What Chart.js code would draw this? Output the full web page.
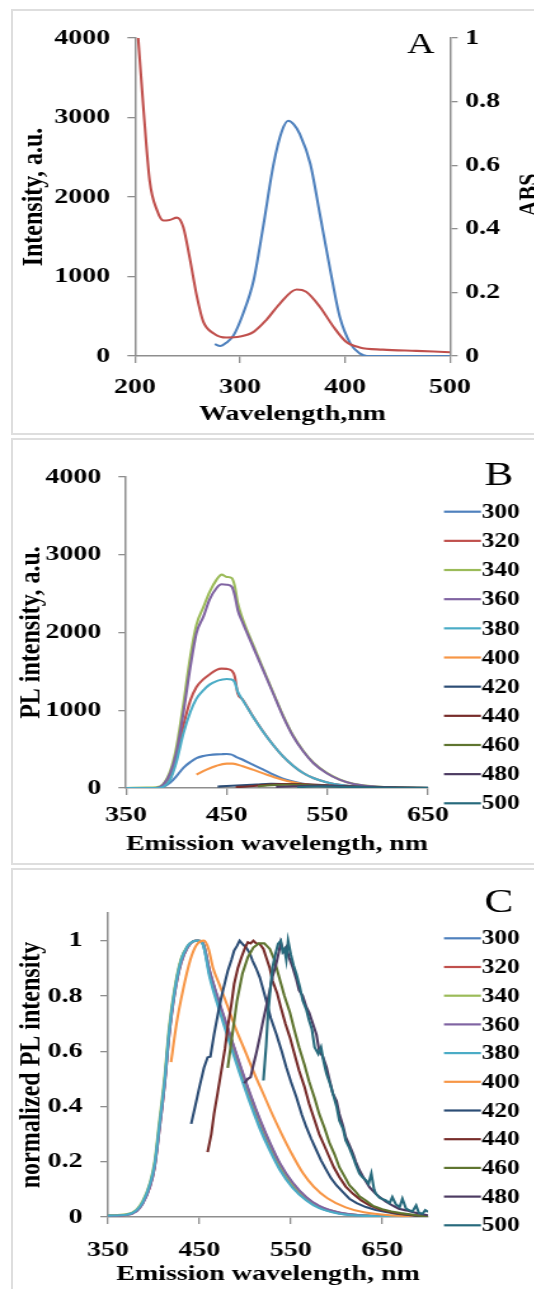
<!DOCTYPE html>
<html>
<head>
<meta charset="utf-8">
<script src="https://cdn.jsdelivr.net/npm/chart.js@4.4.1/dist/chart.umd.min.js"></script>
<style>
  html, body { margin: 0; padding: 0; background: #fff; }
  body { width: 534px; height: 1289px; overflow: hidden; position: relative; }
  .frame { position: absolute; left: 11px; width: 620px; border: 2px solid #dedede; box-sizing: border-box; }
  .wrap { position: absolute; left: 0; transform: scaleX(1.27); transform-origin: 0 0; }
  canvas { display: block; }
</style>
</head>
<body>
<div class="frame" style="top:9px;height:426px"></div>
<div class="frame" style="top:438px;height:427px"></div>
<div class="frame" style="top:868px;height:440px"></div>
<div class="wrap" style="top:10px"><canvas id="chartA" width="441" height="424"></canvas></div>
<div class="wrap" style="top:439px"><canvas id="chartB" width="441" height="425"></canvas></div>
<div class="wrap" style="top:869px"><canvas id="chartC" width="441" height="425"></canvas></div>
<script>
// ---- tick labels
const aTicksX = [200, 300, 400, 500];
const aTicksY = [0, 1000, 2000, 3000, 4000];
const aTicksY2 = [0, 0.2, 0.4, 0.6, 0.8, 1];
const bTicksX = [350, 450, 550, 650];
const bTicksY = [0, 1000, 2000, 3000, 4000];
const cTicksX = [350, 450, 550, 650];
const cTicksY = [0, 0.2, 0.4, 0.6, 0.8, 1];

// ---- panel A: excitation (left axis) + absorbance (right axis)
const absX = [203, 208, 214, 221, 227, 233, 240, 246, 252, 259, 265, 275, 287, 300, 313, 325, 338, 354, 363, 376, 389, 401, 414, 436, 468, 500];
const absY = [1.0, 0.78, 0.55, 0.458, 0.426, 0.428, 0.435, 0.405, 0.31, 0.186, 0.108, 0.071, 0.058, 0.061, 0.076, 0.113, 0.165, 0.209, 0.202, 0.155, 0.092, 0.045, 0.027, 0.02, 0.016, 0.012];
const excX = [276, 281, 287, 294, 303, 313, 322, 332, 340, 346, 351, 357, 367, 376, 386, 395, 405, 414, 421, 440, 470, 500];
const excY = [150, 125, 167, 263, 535, 953, 1622, 2416, 2834, 2960, 2918, 2792, 2416, 1789, 1078, 493, 159, 33, 0, 0, 0, 0];

// ---- panel B: PL spectra, a.u.
const exLabels = ["300", "320", "340", "360", "380", "400", "420", "440", "460", "480", "500"];
const colors = ["#4F81BD", "#C0504D", "#9BBB59", "#8064A2", "#4BACC6", "#F79646", "#2C4D75", "#772C2A", "#5F7530", "#4D3B62", "#276A7C"];

const bX = [350, 370, 380, 387, 394, 400, 407, 414, 420, 427, 433, 440, 445, 450, 455, 458, 461, 466, 476, 486, 496, 506, 516, 526, 536, 549, 562, 576, 595, 622, 650];
const b300 = [0, 0, 0, 15, 70, 150, 260, 335, 385, 412, 424, 432, 435, 437, 429, 410, 390, 363, 300, 240, 175, 120, 83, 55, 38, 22, 13, 6, 2, 0, 0];
const b320 = [0, 0, 0, 20, 130, 380, 800, 1130, 1300, 1400, 1460, 1520, 1535, 1532, 1509, 1436, 1215, 1136, 922, 729, 557, 407, 287, 193, 128, 75, 40, 21, 8, 2, 0];
const b340 = [0, 5, 8, 50, 220, 520, 1080, 1700, 2100, 2330, 2520, 2680, 2744, 2715, 2700, 2600, 2380, 2170, 1850, 1540, 1235, 935, 675, 480, 328, 197, 110, 53, 22, 5, 0];
const b360 = [0, 0, 0, 43, 193, 450, 965, 1565, 1993, 2208, 2422, 2572, 2620, 2615, 2590, 2480, 2290, 2122, 1822, 1522, 1222, 922, 665, 472, 322, 193, 107, 51, 21, 4, 0];
const b380 = [0, 0, 0, 15, 110, 330, 700, 980, 1150, 1260, 1330, 1375, 1392, 1402, 1395, 1360, 1240, 1130, 920, 728, 556, 406, 287, 193, 128, 75, 40, 21, 8, 2, 0];
const b400X = [420, 430, 440, 450, 456, 466, 476, 490, 503, 516, 533, 556, 589, 620, 650];
const b400 = [171, 236, 287, 313, 313, 279, 236, 171, 116, 73, 39, 17, 4, 1, 0];
const b420X = [441, 450, 460, 470, 480, 494, 505, 520, 535, 550, 565, 580, 600, 620, 650];
const b420 = [18, 25, 32, 38, 45, 53, 52, 45, 36, 27, 18, 12, 6, 3, 0];
const b440X = [459, 470, 480, 490, 500, 510, 520, 535, 550, 565, 580, 600, 620, 650];
const b440 = [12, 20, 30, 40, 48, 52, 50, 43, 34, 24, 16, 8, 4, 0];
const b460X = [481, 490, 500, 510, 520, 535, 550, 565, 580, 600, 620, 650];
const b460 = [22, 32, 38, 41, 41, 36, 28, 20, 14, 7, 3, 0];
const b480X = [499, 510, 520, 530, 541, 555, 570, 585, 600, 620, 650];
const b480 = [15, 19, 23, 27, 30, 27, 22, 16, 11, 6, 1];
const b500X = [520, 530, 540, 550, 565, 580, 600, 620, 650];
const b500 = [10, 16, 19, 18, 14, 11, 7, 4, 1];

// ---- panel C: normalized PL
const cX = [350, 370, 381, 388, 396, 401, 406, 412, 417, 423, 430, 437, 443, 448, 454, 461, 472, 483, 494, 505, 516, 527, 538, 552, 567, 581, 603, 632, 669, 700];
const c300 = [0.005, 0.008, 0.022, 0.05, 0.115, 0.185, 0.32, 0.49, 0.67, 0.82, 0.93, 0.98, 0.997, 1.0, 0.985, 0.88, 0.755, 0.64, 0.53, 0.425, 0.33, 0.25, 0.178, 0.11, 0.063, 0.034, 0.013, 0.004, 0.001, 0];
const c320 = [0.004, 0.007, 0.022, 0.05, 0.11, 0.18, 0.31, 0.48, 0.66, 0.81, 0.92, 0.975, 0.997, 1.0, 0.99, 0.89, 0.77, 0.66, 0.55, 0.445, 0.35, 0.265, 0.19, 0.12, 0.07, 0.038, 0.015, 0.005, 0.001, 0];
const c340 = [0.006, 0.01, 0.026, 0.058, 0.125, 0.2, 0.34, 0.51, 0.69, 0.83, 0.935, 0.98, 0.997, 1.0, 0.99, 0.89, 0.77, 0.66, 0.55, 0.445, 0.35, 0.265, 0.19, 0.12, 0.07, 0.038, 0.015, 0.005, 0.001, 0];
const c360 = [0.004, 0.007, 0.02, 0.048, 0.11, 0.18, 0.31, 0.48, 0.66, 0.81, 0.92, 0.975, 0.997, 1.0, 0.99, 0.895, 0.775, 0.665, 0.555, 0.45, 0.355, 0.27, 0.195, 0.125, 0.072, 0.04, 0.016, 0.005, 0.001, 0];
const c380 = [0.005, 0.008, 0.024, 0.054, 0.12, 0.19, 0.325, 0.494, 0.675, 0.82, 0.93, 0.98, 0.997, 1.0, 0.985, 0.87, 0.745, 0.63, 0.52, 0.415, 0.32, 0.24, 0.17, 0.105, 0.06, 0.032, 0.012, 0.004, 0.001, 0];
const c400X = [419, 425, 432, 440, 447, 455, 460, 465, 472, 480, 490, 500, 510, 520, 530, 540, 550, 563, 575, 590, 610, 630, 660, 700];
const c400 = [0.56, 0.70, 0.82, 0.93, 0.985, 1.0, 0.97, 0.9, 0.84, 0.77, 0.68, 0.6, 0.52, 0.445, 0.37, 0.3, 0.235, 0.16, 0.11, 0.068, 0.035, 0.017, 0.006, 0.001];
const c420X = [441, 446, 450, 455, 459, 462, 466, 470, 474, 478, 481, 485, 488, 491, 494, 498, 501, 505, 508, 512, 516, 520, 523, 528, 534, 540, 545, 550, 556, 562, 567, 572, 578, 583, 589, 594, 600, 607, 614, 622, 632, 643, 654, 665, 676, 688, 700];
const c420 = [0.337, 0.41, 0.47, 0.54, 0.578, 0.58, 0.66, 0.73, 0.795, 0.85, 0.89, 0.93, 0.964, 0.98, 1.0, 0.985, 0.976, 0.955, 0.928, 0.9, 0.867, 0.82, 0.783, 0.72, 0.663, 0.6, 0.542, 0.49, 0.434, 0.37, 0.325, 0.285, 0.241, 0.205, 0.169, 0.14, 0.114, 0.09, 0.066, 0.05, 0.036, 0.025, 0.018, 0.012, 0.008, 0.004, 0.002];
const c440X = [459, 463, 466, 470, 474, 478, 481, 485, 488, 492, 496, 500, 503, 506, 509, 512, 516, 520, 523, 527, 530, 535, 539, 544, 549, 554, 559, 565, 570, 576, 581, 587, 592, 597, 603, 610, 618, 627, 636, 647, 658, 669, 680, 690, 700];
const c440 = [0.235, 0.3, 0.373, 0.45, 0.53, 0.61, 0.687, 0.77, 0.843, 0.9, 0.94, 0.975, 0.994, 0.99, 1.0, 0.99, 0.988, 0.97, 0.94, 0.9, 0.855, 0.81, 0.759, 0.7, 0.65, 0.59, 0.53, 0.47, 0.41, 0.35, 0.3, 0.255, 0.217, 0.18, 0.145, 0.11, 0.084, 0.06, 0.042, 0.028, 0.018, 0.012, 0.008, 0.005, 0.003];
const c460X = [481, 486, 491, 497, 503, 509, 515, 521, 527, 532, 537, 543, 549, 554, 559, 565, 570, 576, 581, 587, 592, 598, 603, 609, 614, 620, 625, 632, 640, 650, 660, 670, 680, 690, 700];
const c460 = [0.54, 0.66, 0.78, 0.88, 0.94, 0.975, 0.99, 0.99, 0.97, 0.93, 0.87, 0.8, 0.74, 0.675, 0.614, 0.55, 0.49, 0.43, 0.373, 0.32, 0.27, 0.225, 0.18, 0.145, 0.115, 0.095, 0.075, 0.06, 0.04, 0.028, 0.02, 0.014, 0.01, 0.005, 0.002];
const c480X = [499, 503, 506, 509, 512, 516, 519, 523, 527, 530, 534, 537, 539, 542, 545, 548, 552, 556, 559, 563, 567, 570, 574, 578, 581, 585, 589, 592, 596, 600, 603, 607, 610, 614, 618, 621, 625, 630, 636, 641, 647, 654, 661, 668, 676, 683, 691, 700];
const c480 = [0.484, 0.5, 0.506, 0.55, 0.59, 0.65, 0.7, 0.76, 0.82, 0.87, 0.916, 0.96, 0.994, 0.96, 0.976, 0.94, 0.904, 0.86, 0.82, 0.8, 0.759, 0.74, 0.7, 0.66, 0.602, 0.58, 0.542, 0.5, 0.446, 0.42, 0.373, 0.33, 0.289, 0.26, 0.229, 0.2, 0.169, 0.14, 0.108, 0.09, 0.072, 0.055, 0.042, 0.03, 0.024, 0.018, 0.012, 0.006];
const c500X = [520, 523, 525, 528, 530, 533, 536, 539, 541, 543, 545, 547, 550, 553, 556, 560, 563, 567, 570, 573, 576, 580, 583, 586, 589, 593, 596, 600, 603, 607, 610, 614, 618, 621, 625, 628, 632, 635, 638, 641, 643, 647, 650, 654, 658, 661, 665, 669, 672, 676, 680, 683, 687, 690, 694, 697, 700];
const c500 = [0.494, 0.62, 0.735, 0.84, 0.904, 0.95, 0.988, 1.0, 0.96, 0.97, 0.93, 1.0, 0.95, 0.91, 0.88, 0.83, 0.783, 0.75, 0.711, 0.68, 0.614, 0.59, 0.614, 0.56, 0.518, 0.48, 0.446, 0.4, 0.349, 0.32, 0.277, 0.25, 0.217, 0.19, 0.157, 0.145, 0.133, 0.12, 0.157, 0.1, 0.084, 0.07, 0.065, 0.06, 0.05, 0.072, 0.045, 0.036, 0.066, 0.03, 0.024, 0.02, 0.042, 0.015, 0.012, 0.025, 0.018];

const SERIF = "'Liberation Serif', 'Times New Roman', serif";
const AXIS = "#8e8e8e";
Chart.defaults.font.family = SERIF;
Chart.defaults.color = "#000";

// texts that are not tied to a scale: panel letter, right axis title
const panelText = {
  id: "panelText",
  afterDraw(chart, args, opts) {
    const ctx = chart.ctx;
    ctx.save();
    ctx.fillStyle = "#000";
    ctx.textBaseline = "alphabetic";
    (opts.items || []).forEach(it => {
      ctx.save();
      ctx.font = it.font;
      ctx.textAlign = it.align || "left";
      ctx.translate(it.x, it.y);
      if (it.rot) ctx.rotate(it.rot);
      ctx.fillText(it.text, 0, 0);
      ctx.restore();
    });
    ctx.restore();
  }
};

// legend column on the right, like the excel one
const sideLegend = {
  id: "sideLegend",
  afterDraw(chart, args, opts) {
    if (!opts.top) return;
    const ctx = chart.ctx;
    ctx.save();
    ctx.font = "bold 20px " + SERIF;
    ctx.textBaseline = "middle";
    ctx.textAlign = "left";
    chart.data.datasets.forEach((ds, i) => {
      const y = opts.top + i * opts.gap;
      ctx.strokeStyle = ds.borderColor;
      ctx.lineWidth = 2.2;
      ctx.beginPath();
      ctx.moveTo(opts.x0, y);
      ctx.lineTo(opts.x1, y);
      ctx.stroke();
      ctx.fillStyle = "#000";
      ctx.fillText(ds.label, opts.x1 + 0.5, y + 1);
    });
    ctx.restore();
  }
};

function series(label, color, xs, ys, i, extra) {
  return Object.assign({
    label,
    borderColor: color,
    backgroundColor: color,
    data: xs.map((x, k) => ({ x, y: ys[k] })),
    borderWidth: 2.1,
    pointRadius: 0,
    fill: false,
    order: -i,
  }, extra);
}

function yScale(o) {
  return {
    type: "linear",
    position: o.position || "left",
    min: o.min,
    max: o.max,
    afterFit: s => { s.width = o.width; },
    afterBuildTicks: s => { s.ticks = o.ticks.map(v => ({ value: v })); },
    grid: { drawOnChartArea: false, color: AXIS, tickColor: AXIS, tickLength: 6, lineWidth: 1.3 },
    border: { color: AXIS, width: 1.5 },
    ticks: {
      padding: o.pad,
      font: { size: 22, weight: "bold" },
      callback: v => String(+v.toFixed(1)),
    },
    title: o.title ? {
      display: true,
      text: o.title,
      font: { size: 24, weight: "bold" },
      padding: { top: o.titlePad, bottom: 0 },
    } : { display: false },
  };
}

function xScale(o) {
  return {
    type: "linear",
    position: "bottom",
    min: o.min,
    max: o.max,
    afterFit: s => { s.height = o.height; },
    afterBuildTicks: s => { s.ticks = o.ticks.map(v => ({ value: v })); },
    grid: { drawOnChartArea: false, color: AXIS, tickColor: AXIS, tickLength: 7, lineWidth: 1.3 },
    border: { color: AXIS, width: 1.5 },
    ticks: {
      padding: o.pad,
      maxRotation: 0,
      autoSkip: false,
      font: { size: 22, weight: "bold" },
      callback: v => String(v),
    },
    title: {
      display: true,
      text: o.title,
      font: { size: 22, weight: "bold" },
      padding: { top: 0, bottom: 6 },
    },
  };
}

function baseOptions(pad, scales, pluginOpts) {
  return {
    responsive: false,
    animation: false,
    events: [],
    layout: { padding: pad },
    scales,
    elements: { line: { cubicInterpolationMode: "monotone" } },
    plugins: Object.assign({ legend: { display: false }, tooltip: { enabled: false } }, pluginOpts),
  };
}

// panel A
new Chart("chartA", {
  type: "line",
  data: {
    datasets: [
      series("Excitation", "#4F81BD", excX, excY, 0, { yAxisID: "y" }),
      series("ABS", "#C0504D", absX, absY, 1, { yAxisID: "y2" }),
    ],
  },
  options: baseOptions(
    { top: 28, left: 0, right: 0, bottom: 0 },
    {
      x: xScale({ min: 200, max: 500, ticks: aTicksX, height: 78, pad: 11, title: "Wavelength,nm" }),
      y: yScale({ min: 0, max: 4000, ticks: aTicksY, width: 106.3, pad: 13.5, title: "Intensity, a.u.", titlePad: 12.4 }),
      y2: yScale({ position: "right", min: 0, max: 1, ticks: aTicksY2, width: 86.7, pad: 6 }),
    },
    {
      panelText: {
        items: [
          { text: "A", x: 320.5, y: 43, font: "30px " + SERIF },
          { text: "ABS", x: 423, y: 185, rot: -Math.PI / 2, align: "center", font: "bold 22px " + SERIF },
        ],
      },
      sideLegend: {},
    }
  ),
  plugins: [panelText, sideLegend],
});

// panel B
const bSeries = [
  [bX, b300], [bX, b320], [bX, b340], [bX, b360], [bX, b380], [b400X, b400],
  [b420X, b420], [b440X, b440], [b460X, b460], [b480X, b480], [b500X, b500],
];
new Chart("chartB", {
  type: "line",
  data: {
    datasets: bSeries.map((s, i) => series(exLabels[i], colors[i], s[0], s[1], i)),
  },
  options: baseOptions(
    { top: 38, left: 0, right: 104, bottom: 0 },
    {
      x: xScale({ min: 350, max: 650, ticks: bTicksX, height: 76, pad: 7, title: "Emission wavelength, nm" }),
      y: yScale({ min: 0, max: 4000, ticks: bTicksY, width: 99.2, pad: 13.4, title: "PL intensity, a.u.", titlePad: 10.8 }),
    },
    {
      panelText: { items: [{ text: "B", x: 381.5, y: 46, font: "34px " + SERIF }] },
      sideLegend: { top: 72.7, gap: 29.16, x0: 349.6, x1: 378.7 },
    }
  ),
  plugins: [panelText, sideLegend],
});

// panel C
const cSeries = [
  [cX, c300], [cX, c320], [cX, c340], [cX, c360], [cX, c380], [c400X, c400],
  [c420X, c420], [c440X, c440], [c460X, c460], [c480X, c480], [c500X, c500],
];
new Chart("chartC", {
  type: "line",
  data: {
    datasets: cSeries.map((s, i) => series(exLabels[i], colors[i], s[0], s[1], i,
      i >= 6 ? { cubicInterpolationMode: "default", tension: 0 } : {})),
  },
  options: baseOptions(
    { top: 44, left: 0, right: 104, bottom: 0 },
    {
      x: xScale({ min: 350, max: 700, ticks: cTicksX, height: 77, pad: 13, title: "Emission wavelength, nm" }),
      y: yScale({ min: 0, max: 1.1, ticks: cTicksY, width: 85, pad: 14, title: "normalized PL intensity", titlePad: 10.8 }),
    },
    {
      panelText: { items: [{ text: "C", x: 381.5, y: 43, font: "34px " + SERIF }] },
      sideLegend: { top: 69.3, gap: 28.7, x0: 349.6, x1: 378.7 },
    }
  ),
  plugins: [panelText, sideLegend],
});
</script>
</body>
</html>
